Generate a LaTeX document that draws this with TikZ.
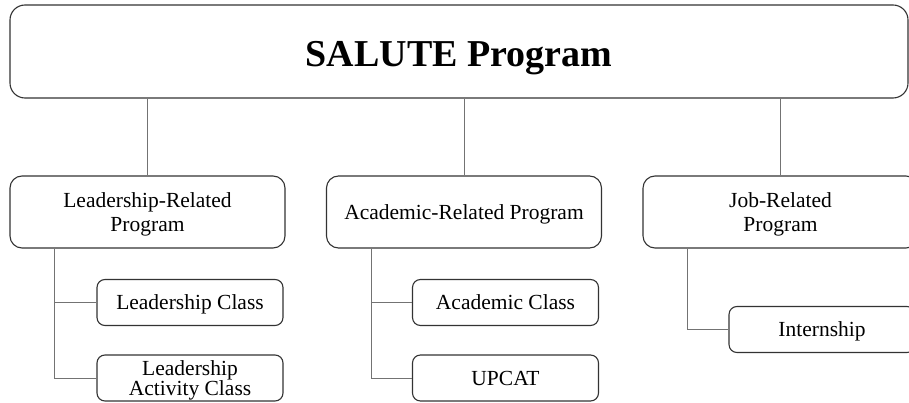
\documentclass[tikz,border=0pt]{standalone}
\usepackage{fontspec}
\setmainfont{Liberation Serif}
\begin{document}
\begin{tikzpicture}[x=1pt, y=-1pt,
    topbox/.style={draw=black!80, line width=1.1pt, rounded corners=15pt, minimum width=898pt, minimum height=93pt, inner sep=0pt, text height=31pt, text depth=0pt, font=\fontsize{38}{40}\selectfont\bfseries},
    progbox/.style={draw=black!80, line width=1.1pt, rounded corners=12pt, minimum width=275pt, minimum height=72pt, inner sep=0pt, text depth=0pt, align=center, font=\fontsize{21.5}{23.5}\selectfont},
    classbox/.style={draw=black!80, line width=1.1pt, rounded corners=8pt, minimum width=186pt, minimum height=46pt, inner sep=0pt, text depth=0pt, align=center, font=\fontsize{21.5}{20}\selectfont},
    link/.style={draw=black!55, line width=0.9pt}]
    \useasboundingbox (0,0) rectangle (909,403);
    % main program
    \node[topbox] (salute) at (459,51.5) {SALUTE Program};
    % the three sub-programs
    \node[progbox] (lead) at (147.5,212) {Leadership-Related\\Program};
    \node[progbox] (acad) at (464,212) {Academic-Related Program};
    \node[progbox] (job) at (780.5,212) {Job-Related\\Program};
    % classes under each sub-program
    \node[classbox] (lclass) at (190,302.5) {Leadership Class};
    \node[classbox] (lact) at (190,378) {Leadership\\Activity Class};
    \node[classbox] (aclass) at (505.5,302.5) {Academic Class};
    \node[classbox] (upcat) at (505.5,378) {UPCAT};
    \node[classbox] (intern) at (822,329.5) {Internship};
    % links
    \foreach \p in {lead,acad,job}{
        \draw[link] (\p.north) -- (\p.north |- salute.south);
        \coordinate (\p-trunk) at ([xshift=45pt]\p.south west);
    }
    \foreach \p/\c in {lead/lclass,lead/lact,acad/aclass,acad/upcat,job/intern}{
        \draw[link] (\p-trunk) |- (\c.west);
    }
\end{tikzpicture}
\end{document}
